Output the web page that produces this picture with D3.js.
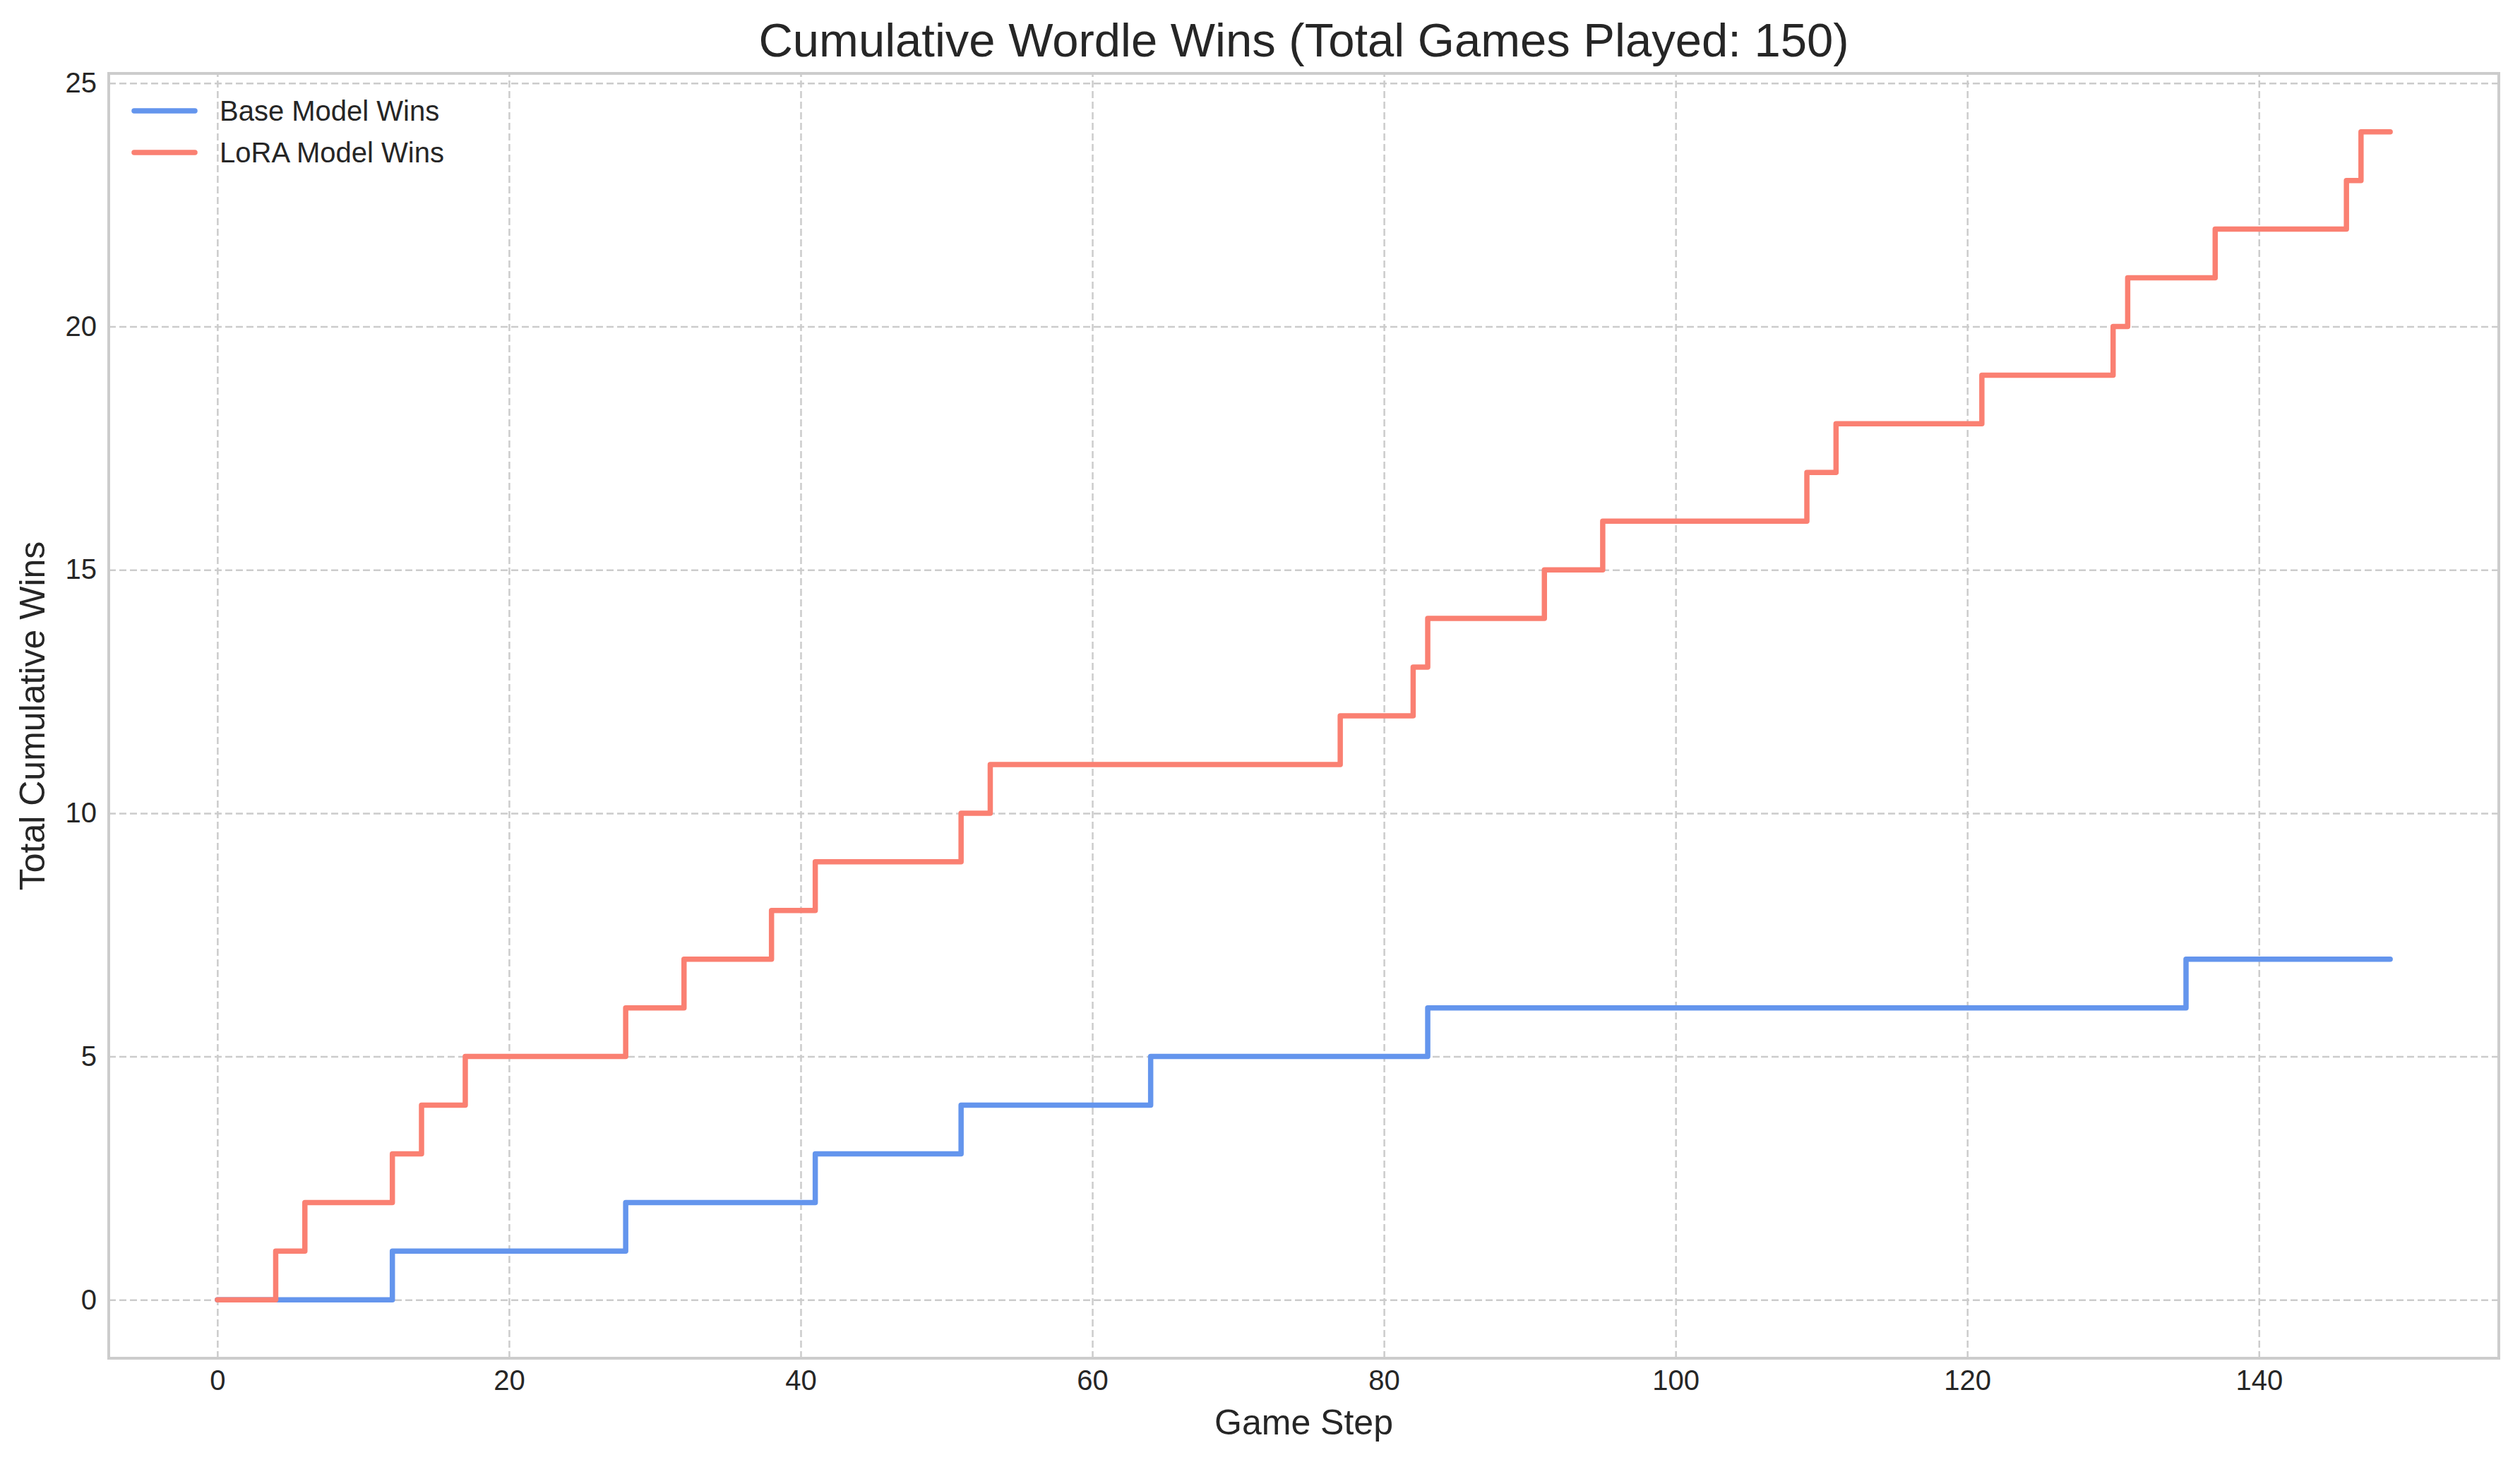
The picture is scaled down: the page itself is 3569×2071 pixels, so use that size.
<!DOCTYPE html>
<html>
<head>
<meta charset="utf-8">
<script src="https://cdn.jsdelivr.net/npm/d3@7"></script>
<style>
  body { margin: 0; background: #fff; }
  text { font-family: "Liberation Sans", Arial, sans-serif; fill: #262626; }
</style>
</head>
<body>
<svg id="chart"></svg>
<script>
// change points of the cumulative step series
var baseSteps = [0, 12, 28, 41, 51, 64, 83, 135, 149];
var baseWins  = [0, 1, 2, 3, 4, 5, 6, 7, 7];
var loraSteps = [0, 4, 6, 12, 14, 17, 28, 32, 38, 41, 51, 53, 77, 82, 83, 91, 95, 109, 111, 121, 130, 131, 137, 146, 147, 149];
var loraWins  = [0, 1, 2, 3, 4, 5, 6, 7, 8, 9, 10, 11, 12, 13, 14, 15, 16, 17, 18, 19, 20, 21, 22, 23, 24, 24];
var xTicks = [0, 20, 40, 60, 80, 100, 120, 140];
var yTicks = [0, 5, 10, 15, 20, 25];
var seriesNames = ["Base Model Wins", "LoRA Model Wins"];
var seriesColors = ["#6495ED", "#FA8072"];

var W = 3569, H = 2071;
var margin = { left: 154, right: W - 3539, top: 104, bottom: H - 1924 };
var w = W - margin.left - margin.right;
var h = H - margin.top - margin.bottom;

var svg = d3.select("#chart").attr("width", W).attr("height", H);
svg.append("rect").attr("width", W).attr("height", H).attr("fill", "#fff");

var g = svg.append("g").attr("transform", "translate(" + margin.left + "," + margin.top + ")");

// matplotlib style 5% margins
var xMax = 149, yMax = 24;
var x = d3.scaleLinear().domain([-xMax * 0.05, xMax * 1.05]).range([0, w]);
var y = d3.scaleLinear().domain([-yMax * 0.05, yMax * 1.05]).range([h, 0]);

// grid + tick labels
var xAxis = g.append("g")
  .attr("transform", "translate(0," + h + ")")
  .call(d3.axisBottom(x).tickValues(xTicks).tickSize(-h).tickPadding(17).tickFormat(d3.format("d")));
var yAxis = g.append("g")
  .call(d3.axisLeft(y).tickValues(yTicks).tickSize(-w).tickPadding(17).tickFormat(d3.format("d")));

[xAxis, yAxis].forEach(function (a) {
  a.select(".domain").remove();
  a.selectAll(".tick line")
    .attr("stroke", "#cccccc")
    .attr("stroke-width", 2.5)
    .attr("stroke-dasharray", "10,5");
  a.selectAll(".tick text")
    .attr("font-size", 40)
    .attr("fill", "#262626")
    .style("font-family", "'Liberation Sans', Arial, sans-serif");
});

// frame
g.append("rect")
  .attr("width", w).attr("height", h)
  .attr("fill", "none")
  .attr("stroke", "#cccccc")
  .attr("stroke-width", 4);

var line = d3.line()
  .x(function (d) { return x(d[0]); })
  .y(function (d) { return y(d[1]); })
  .curve(d3.curveStepAfter);

var series = [
  d3.zip(baseSteps, baseWins),
  d3.zip(loraSteps, loraWins)
];

g.selectAll(".series")
  .data(series)
  .enter()
  .append("path")
  .attr("class", "series")
  .attr("d", line)
  .attr("fill", "none")
  .attr("stroke", function (d, i) { return seriesColors[i]; })
  .attr("stroke-width", 7.5)
  .attr("stroke-linejoin", "round")
  .attr("stroke-linecap", "round");

// legend
var legend = svg.append("g");
seriesNames.forEach(function (name, i) {
  var ly = 157 + i * 59;
  legend.append("line")
    .attr("x1", 190).attr("x2", 276)
    .attr("y1", ly).attr("y2", ly)
    .attr("stroke", seriesColors[i])
    .attr("stroke-width", 7.5)
    .attr("stroke-linecap", "round");
  legend.append("text")
    .attr("x", 311).attr("y", ly + 14)
    .attr("font-size", 40)
    .text(name);
});

// title and axis labels
svg.append("text")
  .attr("x", margin.left + w / 2).attr("y", 80)
  .attr("text-anchor", "middle")
  .attr("font-size", 67)
  .text("Cumulative Wordle Wins (Total Games Played: 150)");

svg.append("text")
  .attr("x", margin.left + w / 2).attr("y", 2032)
  .attr("text-anchor", "middle")
  .attr("font-size", 50)
  .text("Game Step");

svg.append("text")
  .attr("transform", "translate(63," + (margin.top + h / 2) + ") rotate(-90)")
  .attr("text-anchor", "middle")
  .attr("font-size", 50)
  .text("Total Cumulative Wins");
</script>
</body>
</html>
